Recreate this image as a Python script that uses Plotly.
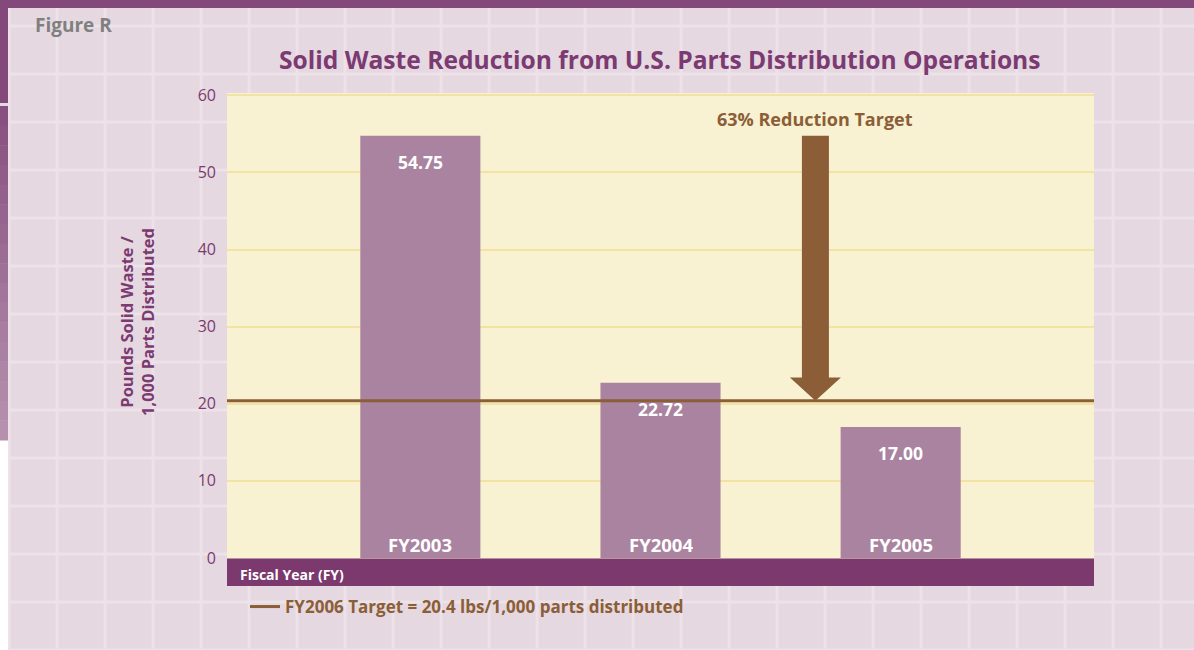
import plotly.graph_objects as go

# data
years = ["FY2003", "FY2004", "FY2005"]
waste = [54.75, 22.72, 17.00]
target_fy2006 = 20.4
y_ticks = [0, 10, 20, 30, 40, 50, 60]

PURPLE = "#7b3a72"
BAR = "#a9839f"
BROWN = "#8b5e37"
BAND = "#7b396e"
FONT = "Open Sans"

W, H = 1194, 650
L, R, T, B = 227, 100, 93, 92
PW, PH = W - L - R, H - T - B


def px(x):
    return (x - L) / PW


def py(y):
    return (H - B - y) / PH


fig = go.Figure()

fig.add_trace(
    go.Bar(
        x=years,
        y=waste,
        width=0.5,
        marker={"color": BAR, "line": {"width": 0}},
        showlegend=False,
        hoverinfo="x+y",
    )
)

shapes = []

# background grid pattern
for k in range(25):
    x = 9 + 48 * k
    if x > W:
        break
    shapes.append(dict(type="line", xref="paper", yref="paper", x0=px(x), x1=px(x),
                       y0=py(8), y1=py(H), line={"color": "#ece2e8", "width": 3}, layer="below"))
for k in range(14):
    y = 26 + 48 * k
    shapes.append(dict(type="line", xref="paper", yref="paper", x0=px(9), x1=px(W),
                       y0=py(y), y1=py(y), line={"color": "#ece2e8", "width": 3}, layer="below"))

# plot area background (drawn over the pattern, under the gridlines)
shapes.append(dict(type="rect", xref="paper", yref="paper", x0=0, x1=1, y0=py(561), y1=py(93),
                   fillcolor="#f8f1d2", line={"width": 0}, layer="below"))

# frame decoration
shapes.append(dict(type="rect", xref="paper", yref="paper", x0=px(0), x1=px(W), y0=py(0), y1=py(8),
                   fillcolor="#82497a", line={"width": 0}, layer="below"))
shapes.append(dict(type="rect", xref="paper", yref="paper", x0=px(0), x1=px(8), y0=py(0), y1=py(103),
                   fillcolor="#82497a", line={"width": 0}, layer="below"))
shapes.append(dict(type="rect", xref="paper", yref="paper", x0=px(0), x1=px(8), y0=py(440), y1=py(H),
                   fillcolor="white", line={"width": 0}, layer="below"))
steps = 17
c0, c1 = (136, 80, 128), (182, 145, 174)
for i in range(steps):
    f = i / (steps - 1)
    c = tuple(round(a + (b - a) * f) for a, b in zip(c0, c1))
    y0 = 106 + (440 - 106) * i / steps
    y1 = 106 + (440 - 106) * (i + 1) / steps
    shapes.append(dict(type="rect", xref="paper", yref="paper", x0=px(0), x1=px(8),
                       y0=py(y0), y1=py(y1 + 0.5), fillcolor="rgb(%d,%d,%d)" % c,
                       line={"width": 0}, layer="below"))

# fiscal year band under the plot
shapes.append(dict(type="rect", xref="paper", yref="paper", x0=0, x1=1, y0=py(558.5), y1=py(586),
                   fillcolor=BAND, line={"width": 0}))

# target line
shapes.append(dict(type="line", xref="paper", yref="y", x0=0, x1=1, y0=target_fy2006, y1=target_fy2006,
                   line={"color": BROWN, "width": 3}, showlegend=True,
                   name="FY2006 Target = 20.4 lbs/1,000 parts distributed"))

# reduction arrow from FY2003 level down to the target
ax = 1.645
head = 3.0
shapes.append(dict(
    type="path", xref="x", yref="y", xsizemode="pixel", xanchor=ax,
    path=(f"M -13.5,{waste[0]} L 13.5,{waste[0]} L 13.5,{target_fy2006 + head} "
          f"L 25.5,{target_fy2006 + head} L 0,{target_fy2006} L -25.5,{target_fy2006 + head} "
          f"L -13.5,{target_fy2006 + head} Z"),
    fillcolor=BROWN, line={"width": 0},
))

annotations = []
for yr, v in zip(years, waste):
    annotations.append(dict(x=yr, y=v, text=f"{v:.2f}", showarrow=False, yanchor="middle", yshift=-26,
                            font={"family": FONT, "size": 17.5, "color": "white", "weight": 700}))
    annotations.append(dict(x=yr, y=0, text=yr, showarrow=False, yanchor="bottom", yshift=-1,
                            font={"family": FONT, "size": 18.5, "color": "white", "weight": 700}))

annotations += [
    dict(x=ax, y=waste[0], text="63% Reduction Target", showarrow=False, yanchor="bottom", yshift=3,
         font={"family": FONT, "size": 18, "color": BROWN, "weight": 700}),
    dict(xref="paper", yref="paper", x=px(238), y=py(574), text="Fiscal Year (FY)", showarrow=False,
         xanchor="left", yanchor="middle",
         font={"family": FONT, "size": 14, "color": "white", "weight": 700}),
    dict(xref="paper", yref="paper", x=px(137), y=py(322), textangle=-90, showarrow=False,
         text="Pounds Solid Waste /<br>1,000 Parts Distributed", xanchor="center", yanchor="middle",
         font={"family": FONT, "size": 16.5, "color": PURPLE, "weight": 700}),
    dict(xref="paper", yref="paper", x=px(33), y=py(25), text="Figure R", showarrow=False,
         xanchor="left", yanchor="middle",
         font={"family": FONT, "size": 19, "color": "#808080", "weight": 700}),
    dict(xref="paper", yref="paper", x=px(660), y=py(60),
         text="Solid Waste Reduction from U.S. Parts Distribution Operations", showarrow=False,
         xanchor="center", yanchor="middle",
         font={"family": FONT, "size": 24.6, "color": PURPLE, "weight": 700}),
]

fig.update_layout(
    width=W,
    height=H,
    margin={"l": L, "r": R, "t": T, "b": B},
    paper_bgcolor="#e5d8e0",
    plot_bgcolor="rgba(0,0,0,0)",
    shapes=shapes,
    annotations=annotations,
    legend={
        "x": px(245), "y": py(607), "xanchor": "left", "yanchor": "middle",
        "orientation": "h", "bgcolor": "rgba(0,0,0,0)",
        "font": {"family": FONT, "size": 17, "color": BROWN, "weight": 700},
    },
    xaxis={
        "range": [-0.805, 2.805],
        "showticklabels": False,
        "showgrid": False,
        "zeroline": False,
        "fixedrange": True,
    },
    yaxis={
        "range": [0, 60.3],
        "tickvals": y_ticks,
        "showgrid": True,
        "gridcolor": "#f3e3a3",
        "gridwidth": 2,
        "zeroline": False,
        "ticklabelstandoff": 10,
        "tickfont": {"family": FONT, "size": 16, "color": PURPLE},
        "fixedrange": True,
    },
)

fig.write_html(
    "out.html",
    config={"displayModeBar": False},
    post_script="document.body.style.margin = '0';",
)
